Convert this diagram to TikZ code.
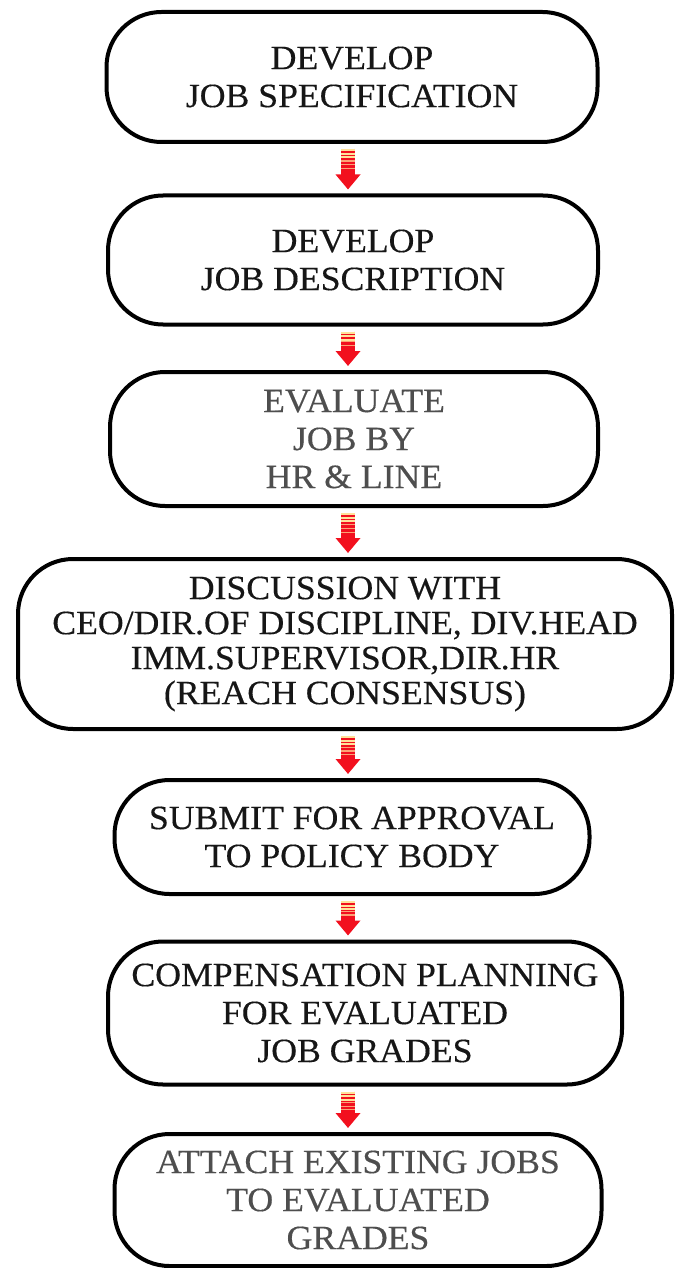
\documentclass[tikz,border=0pt]{standalone}
\usepackage{fontspec}
\setmainfont{Liberation Serif}[FakeStretch=1.05,FakeBold=0.35]
\usetikzlibrary{arrows.meta,calc}
\definecolor{txtdark}{HTML}{161616}
\definecolor{txtgray}{HTML}{4E4E4E}
\definecolor{arrred}{HTML}{F2101E}
\definecolor{arrstripe}{HTML}{FFE29A}
\newcommand\flowarrow[2]{%
  \draw[arrred, line width=14pt, -{Triangle[width=24pt,length=15pt]}]
    ($(ax |- #1.south)+(0,5)$) coordinate (s-#1) -- ($(ax |- #2.north)+(0,-4)$) coordinate (e-#1);
  \draw[arrstripe, line width=14pt, dash pattern=on 2pt off 1.6pt]
    (s-#1) -- ($(s-#1)!0.28!(e-#1)$);
  \draw[arrstripe!70!arrred, line width=14pt, dash pattern=on 1.2pt off 2.6pt]
    ($(s-#1)!0.28!(e-#1)$) -- ($(s-#1)!0.5!(e-#1)$);
}
\begin{document}
\begin{tikzpicture}[x=1pt,y=-1pt,
  stepbox/.style={draw=black, line width=4pt, rounded corners=55pt, fill=white,
    align=center, inner sep=0pt, text=txtdark,
    font=\fontsize{34}{38}\selectfont},
  graytext/.style={text=txtgray},
  tightlines/.style={font=\fontsize{34}{35}\selectfont}
]
\useasboundingbox[fill=white] (0,0) rectangle (676,1268);
\coordinate (ax) at (348,0);

\node[stepbox, minimum width=491pt, minimum height=130pt] (b1) at (352,77)
  {DEVELOP\\JOB SPECIFICATION};
\node[stepbox, minimum width=490pt, minimum height=129pt] (b2) at (353,260)
  {DEVELOP\\JOB DESCRIPTION};
\node[stepbox, graytext, minimum width=488pt, minimum height=134pt] (b3) at (354,439)
  {EVALUATE\\JOB BY\\HR \& LINE};
\node[stepbox, tightlines, minimum width=654pt, minimum height=170pt] (b4) at (345,644)
  {DISCUSSION WITH\\CEO/DIR.OF DISCIPLINE, DIV.HEAD\\IMM.SUPERVISOR,DIR.HR\\(REACH CONSENSUS)};
\node[stepbox, minimum width=475pt, minimum height=114pt] (b5) at (352,837)
  {SUBMIT FOR APPROVAL\\TO POLICY BODY};
\node[stepbox, minimum width=514pt, minimum height=143pt] (b6) at (365,1013)
  {COMPENSATION PLANNING\\FOR EVALUATED\\JOB GRADES};
\node[stepbox, graytext, minimum width=487pt, minimum height=132pt] (b7) at (358,1200)
  {ATTACH EXISTING JOBS\\TO EVALUATED\\GRADES};

\flowarrow{b1}{b2}
\flowarrow{b2}{b3}
\flowarrow{b3}{b4}
\flowarrow{b4}{b5}
\flowarrow{b5}{b6}
\flowarrow{b6}{b7}
\end{tikzpicture}
\end{document}
